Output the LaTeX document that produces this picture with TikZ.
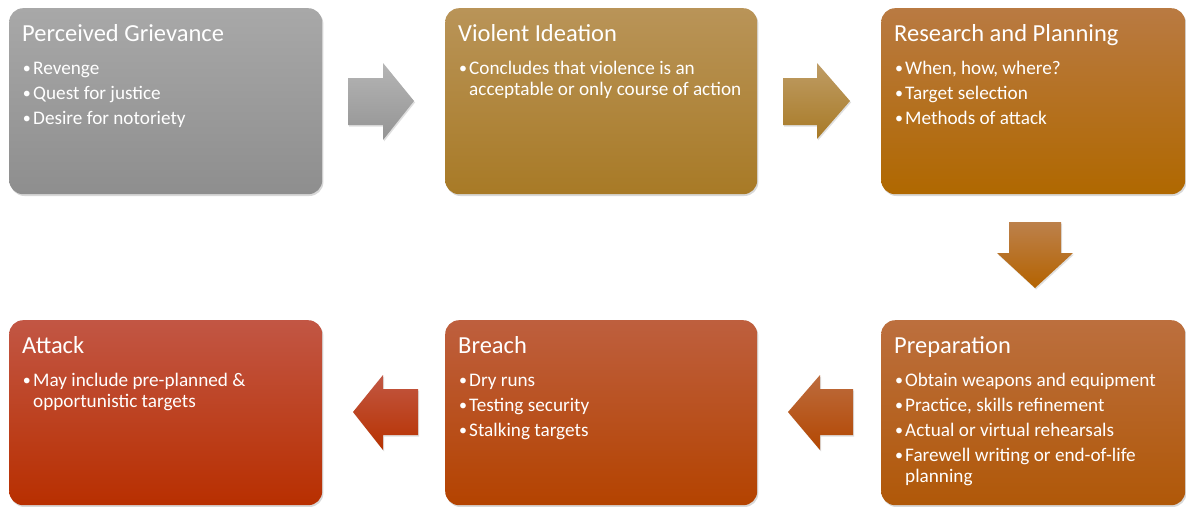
\documentclass[tikz,border=0pt]{standalone}
\usepackage{fontspec}
\setmainfont{Carlito}
\usetikzlibrary{shadows,calc}
\newcommand\bpt[1]{\par\noindent\hangindent=11pt\hangafter=1\makebox[11pt][l]{\hspace{0.8pt}\raisebox{1pt}{\fontsize{16}{16}\selectfont\textbullet}}#1\par}
\newcommand\blist[1]{\parbox[t]{300pt}{\fontsize{19.2}{21}\selectfont\raggedright\setlength\parskip{4pt}#1}}
\definecolor{g1}{HTML}{A8A8A8}\definecolor{g2}{HTML}{8E8E8E}
\definecolor{v1}{HTML}{B99458}\definecolor{v2}{HTML}{A87A26}
\definecolor{r1}{HTML}{B97A42}\definecolor{r2}{HTML}{B06800}
\definecolor{p1}{HTML}{BC6F3E}\definecolor{p2}{HTML}{B05808}
\definecolor{br1}{HTML}{BE5F3E}\definecolor{br2}{HTML}{B44300}
\definecolor{at1}{HTML}{C25644}\definecolor{at2}{HTML}{B82F00}
\tikzset{
  box/.style={rounded corners=14pt, draw=none, inner sep=0pt, anchor=north west,
    drop shadow={opacity=0.3, shadow xshift=1.2pt, shadow yshift=-1.8pt}},
  ttl/.style={anchor=base west, inner sep=0pt, text=white, font=\fontsize{24.5}{28}\selectfont},
  txt/.style={anchor=base west, inner sep=0pt, text=white},
  blk/.style={draw=none, drop shadow={opacity=0.25, shadow xshift=1pt, shadow yshift=-1.5pt}}
}
\begin{document}
\begin{tikzpicture}[x=1pt,y=-1pt]
\useasboundingbox (0,0) rectangle (1186,506);
\fill[white] (0,0) rectangle (1186,506);
% boxes
\node[box, minimum width=313pt, minimum height=186pt, top color=g1, bottom color=g2] (b1) at (9,8) {};
\node[box, minimum width=312pt, minimum height=186pt, top color=v1, bottom color=v2] (b2) at (445,8) {};
\node[box, minimum width=304pt, minimum height=186pt, top color=r1, bottom color=r2] (b3) at (881,8) {};
\node[box, minimum width=304pt, minimum height=185pt, top color=p1, bottom color=p2] (b6) at (881,320) {};
\node[box, minimum width=312pt, minimum height=185pt, top color=br1, bottom color=br2] (b5) at (445,320) {};
\node[box, minimum width=313pt, minimum height=185pt, top color=at1, bottom color=at2] (b4) at (9,320) {};
% texts
\node[ttl] (t1) at ($(b1.north west)+(13,33)$) {Perceived Grievance};
\node[txt] (l1) at ($(b1.north west)+(13,66)$) {\blist{\bpt{Revenge}\bpt{Quest for justice}\bpt{Desire for notoriety}}};
\node[ttl] (t2) at ($(b2.north west)+(13,33)$) {Violent Ideation};
\node[txt] (l2) at ($(b2.north west)+(13,66)$) {\blist{\bpt{Concludes that violence is an\newline acceptable or only course of action}}};
\node[ttl] (t3) at ($(b3.north west)+(13,33)$) {Research and Planning};
\node[txt] (l3) at ($(b3.north west)+(13,66)$) {\blist{\bpt{When, how, where?}\bpt{Target selection}\bpt{Methods of attack}}};
\node[ttl] (t6) at ($(b6.north west)+(13,33)$) {Preparation};
\node[txt] (l6) at ($(b6.north west)+(13,66)$) {\blist{\bpt{Obtain weapons and equipment}\bpt{Practice, skills refinement}\bpt{Actual or virtual rehearsals}\bpt{Farewell writing or end-of-life\newline planning}}};
\node[ttl] (t5) at ($(b5.north west)+(13,33)$) {Breach};
\node[txt] (l5) at ($(b5.north west)+(13,66)$) {\blist{\bpt{Dry runs}\bpt{Testing security}\bpt{Stalking targets}}};
\node[ttl] (t4) at ($(b4.north west)+(13,33)$) {Attack};
\node[txt] (l4) at ($(b4.north west)+(13,66)$) {\blist{\bpt{May include pre-planned \&\newline opportunistic targets}}};
% block arrows
\path[blk, top color=g1!85!white, bottom color=g2!95!white] (348,78) -- (383,78) -- (383,63) -- (414,101) -- (383,140) -- (383,125) -- (348,125) -- cycle;
\path[blk, top color=v1!92!white, bottom color=v2] (783,78) -- (817,78) -- (817,63) -- (850,101) -- (817,139) -- (817,125) -- (783,125) -- cycle;
\path[blk, top color=r1!95!white, bottom color=r2!95!red] (1009,222) -- (1061,222) -- (1061,253) -- (1073,253) -- (1035,288) -- (997,253) -- (1009,253) -- cycle;
\path[blk, top color=p1!80!br1, bottom color=br2!80!p2] (853,389) -- (820,389) -- (820,375) -- (788,412) -- (820,450) -- (820,435) -- (853,435) -- cycle;
\path[blk, top color=at1!90!br1, bottom color=at2!85!br2] (418,389) -- (383,389) -- (383,375) -- (353,412) -- (383,450) -- (383,435) -- (418,435) -- cycle;
\end{tikzpicture}
\end{document}
